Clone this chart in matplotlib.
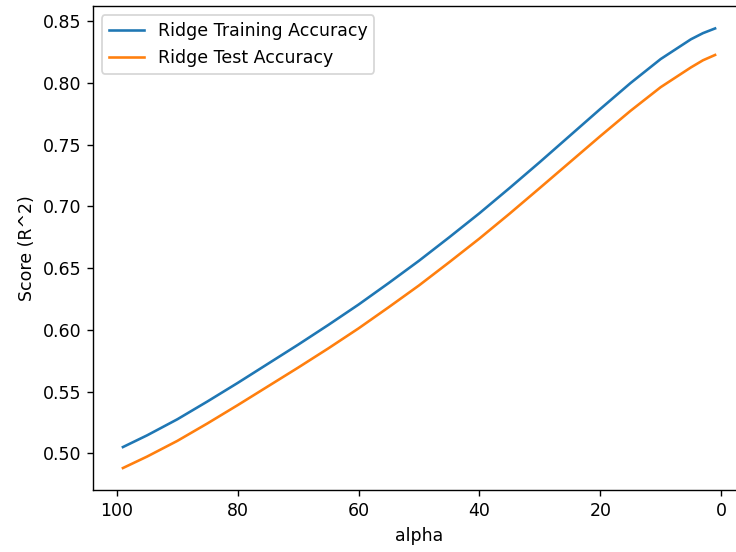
import matplotlib
matplotlib.use("Agg")
import matplotlib.pyplot as plt

# alpha values
alphas = [99, 95, 90, 85, 80, 75, 70, 65, 60, 55, 50, 45, 40, 35, 30, 25, 20, 15, 10, 5, 3, 1]

# R^2 scores
train_scores = [0.505, 0.5145, 0.5275, 0.542, 0.557, 0.5725, 0.588, 0.604, 0.6205, 0.638, 0.656,
                0.675, 0.6945, 0.715, 0.736, 0.7575, 0.779, 0.800, 0.8195, 0.8355, 0.8405, 0.8443]
test_scores = [0.488, 0.4973, 0.510, 0.5242, 0.539, 0.5542, 0.5694, 0.585, 0.6012, 0.6184, 0.636,
               0.6548, 0.674, 0.6942, 0.715, 0.736, 0.757, 0.7775, 0.7967, 0.8127, 0.8185, 0.8228]

# the reference looks like a default figure scaled up ~1.25x, so use dpi 125
fig = plt.figure(figsize=(5.888, 4.416), dpi=125)
# axes runs slightly past the right edge, as in the cropped original
ax = fig.add_axes([0.1268, 0.1123, 0.885, 0.876])

ax.plot(alphas, train_scores, label="Ridge Training Accuracy")
ax.plot(alphas, test_scores, label="Ridge Test Accuracy")
ax.invert_xaxis()
ax.spines['right'].set_visible(False)  # off-canvas in the original

ax.set_xlabel("alpha")
ax.set_ylabel("Score (R^2)")
ax.legend(loc="upper left")

fig.savefig("out.png", dpi=125)
